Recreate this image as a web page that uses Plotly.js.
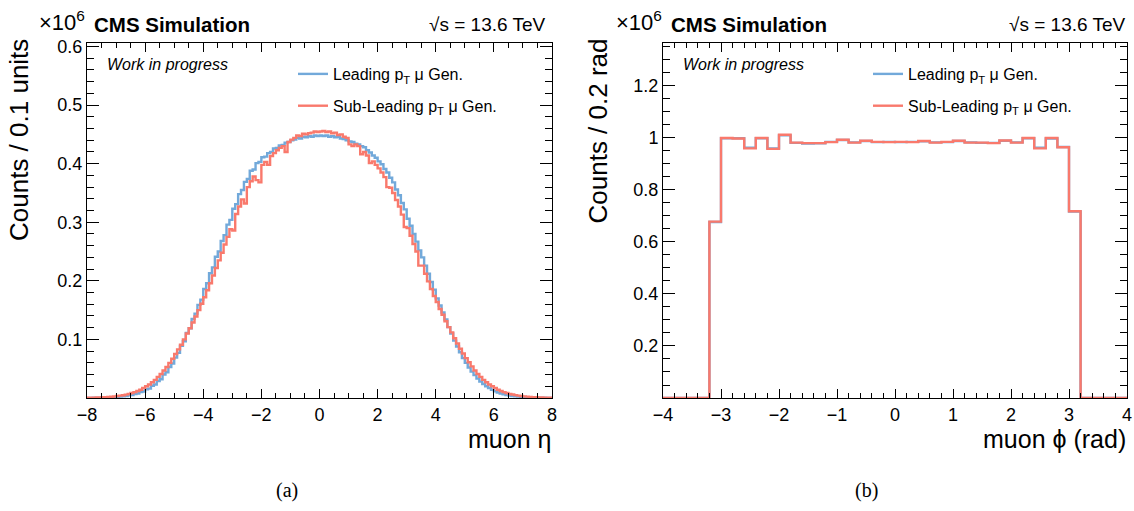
<!DOCTYPE html>
<html><head><meta charset="utf-8">
<script src="https://cdn.plot.ly/plotly-3.0.1.min.js"></script>
<style>html,body{margin:0;padding:0;background:#fff;} #chart{width:1134px;height:511px;}</style>
</head><body><div id="chart"></div>
<script>
// ---------- binning ----------
const etaBinLow = -8, etaBinWidth = 0.1;   // 160 bins, -8 .. 8
const phiBinLow = -4, phiBinWidth = 0.2;   // 40 bins, -4 .. 4

// ---------- muon eta (x10^6 counts / 0.1) ----------
const etaLeading = [
.0002,.0002,.0003,.0004,.0005,.0006,.0008,.0010,.0013,.0015,
.0020,.0023,.0030,.0034,.0044,.0051,.0066,.0076,.010,.011,
.015,.016,.021,.023,.029,.032,.040,.044,.053,.059,
.069,.077,.089,.097,.111,.119,.135,.144,.159,.168,
.186,.196,.213,.223,.241,.250,.268,.278,.296,.304,
.323,.331,.348,.355,.369,.374,.388,.390,.401,.403,
.411,.412,.418,.420,.426,.427,.431,.432,.436,.437,
.440,.441,.444,.443,.446,.445,.447,.446,.448,.447,
.448,.447,.448,.446,.447,.445,.446,.443,.442,.440,
.438,.437,.434,.433,.430,.428,.423,.419,.414,.410,
.404,.399,.391,.385,.376,.368,.356,.346,.333,.322,
.306,.294,.280,.267,.252,.240,.226,.212,.198,.185,
.170,.158,.146,.134,.121,.110,.098,.088,.078,.068,
.060,.052,.045,.039,.033,.028,.024,.020,.017,.014,
.0115,.0095,.0078,.0064,.0052,.0043,.0035,.0029,.0024,.0019,
.0016,.0013,.0010,.0008,.0006,.0005,.0004,.0003,.0002,.0002
];
const etaSubLeading = [
.0004,.0005,.0006,.0008,.0010,.0012,.0015,.0018,.0022,.0027,
.0033,.0040,.0048,.0058,.0070,.0085,.010,.012,.014,.017,
.020,.023,.027,.031,.036,.041,.047,.053,.060,.067,
.075,.083,.091,.100,.110,.119,.129,.139,.150,.161,
.172,.184,.196,.209,.222,.235,.248,.262,.275,.288,
.286,.314,.327,.339,.332,.360,.370,.378,.372,.368,
.398,.403,.398,.413,.418,.423,.427,.430,.420,.437,
.441,.444,.448,.447,.451,.450,.452,.453,.455,.454,
.455,.456,.454,.455,.452,.453,.449,.450,.446,.444,
.433,.430,.433,.430,.416,.420,.414,.401,.404,.398,
.392,.385,.377,.360,.359,.350,.338,.327,.313,.292,
.290,.277,.263,.250,.226,.226,.212,.199,.186,.174,
.164,.152,.142,.131,.121,.112,.102,.093,.084,.076,
.068,.061,.054,.047,.041,.036,.031,.027,.023,.020,
.017,.014,.012,.010,.0085,.0071,.0059,.0049,.0041,.0034,
.0028,.0023,.0019,.0015,.0012,.0010,.0008,.0006,.0005,.0004
];

// ---------- muon phi (x10^6 counts / 0.2 rad) ----------
const phiLeading = [
0,0,0,0,
0.677,0.999,0.999,0.962,0.999,0.960,1.010,0.981,0.978,0.979,0.985,0.992,0.983,0.988,0.984,0.985,
0.984,0.985,0.987,0.983,0.984,0.988,0.983,0.981,0.981,0.989,0.983,0.999,0.962,0.998,0.965,0.717,
0,0,0,0
];
const phiSubLeading = [
0,0,0,0,
0.678,1.000,0.998,0.960,1.000,0.958,1.012,0.982,0.980,0.980,0.984,0.993,0.982,0.989,0.985,0.984,
0.985,0.984,0.988,0.982,0.985,0.989,0.982,0.982,0.980,0.990,0.982,1.000,0.960,1.000,0.964,0.718,
0,0,0,0
];

// ---------- labels ----------
const legendNames = ["Leading p<sub>T</sub> μ Gen.", "Sub-Leading p<sub>T</sub> μ Gen."];
const etaYTicks = [0.1,0.2,0.3,0.4,0.5,0.6];
const etaYTickText = ["0.1","0.2","0.3","0.4","0.5","0.6"];
const phiYTicks = [0.2,0.4,0.6,0.8,1.0,1.2];
const phiYTickText = ["0.2","0.4","0.6","0.8","1","1.2"];

const colBlue = "#72a9da", colRed = "#f9796c";

function stepXY(low, width, vals){
  const x = [], y = [];
  for (let i = 0; i < vals.length; i++){ x.push(low + width*i); y.push(vals[i]); }
  x.push(low + width*vals.length); y.push(vals[vals.length-1]);
  return {x, y};
}

const e1 = stepXY(etaBinLow, etaBinWidth, etaLeading);
const e2 = stepXY(etaBinLow, etaBinWidth, etaSubLeading);
const p1 = stepXY(phiBinLow, phiBinWidth, phiLeading);
const p2 = stepXY(phiBinLow, phiBinWidth, phiSubLeading);

const lw = 2.4;
const traces = [
  {x:e1.x, y:e1.y, type:"scatter", mode:"lines", line:{shape:"hv", color:colBlue, width:lw}, name:legendNames[0], legend:"legend", legendgroup:"a", xaxis:"x", yaxis:"y"},
  {x:e2.x, y:e2.y, type:"scatter", mode:"lines", line:{shape:"hv", color:colRed, width:lw}, name:legendNames[1], legend:"legend", legendgroup:"b", xaxis:"x", yaxis:"y"},
  {x:p1.x, y:p1.y, type:"scatter", mode:"lines", line:{shape:"hv", color:colBlue, width:lw}, name:legendNames[0], legend:"legend2", legendgroup:"c", xaxis:"x2", yaxis:"y2"},
  {x:p2.x, y:p2.y, type:"scatter", mode:"lines", line:{shape:"hv", color:colRed, width:lw}, name:legendNames[1], legend:"legend2", legendgroup:"d", xaxis:"x2", yaxis:"y2"}
];

const W = 1134, H = 511;
const px = v => v / W, py = v => 1 - v / H;
const FF = "Liberation Sans, Arial, sans-serif";
const tickFont = {family: FF, size: 18, color: "#000"};

function xAx(dom, rng, dt, mdt, anchor){
  return {domain: dom, range: rng, anchor: anchor, tickmode:"linear", tick0:0, dtick: dt,
    ticks:"inside", ticklen:9, tickwidth:1, tickcolor:"#000",
    minor:{tickmode:"linear", tick0:0, dtick:mdt, ticks:"inside", ticklen:5, tickwidth:1, tickcolor:"#000", showgrid:false},
    showline:true, linecolor:"#000", linewidth:1, mirror:"allticks",
    showgrid:false, zeroline:false, tickfont: tickFont, fixedrange:true};
}
function yAx(dom, rng, tv, tt, mdt, anchor){
  return {domain: dom, range: rng, anchor: anchor, tickmode:"array", tickvals: tv, ticktext: tt,
    ticks:"inside", ticklen:12, tickwidth:1, tickcolor:"#000",
    minor:{tickmode:"linear", tick0:0, dtick:mdt, ticks:"inside", ticklen:7, tickwidth:1, tickcolor:"#000", showgrid:false},
    showline:true, linecolor:"#000", linewidth:1, mirror:"allticks",
    showgrid:false, zeroline:false, tickfont: tickFont, fixedrange:true};
}

const ydom = [1 - 398/H, 1 - 43/H];

function ann(text, x, y, opts){
  return Object.assign({text, x: px(x), y: py(y), xref:"paper", yref:"paper", showarrow:false,
    xanchor:"left", yanchor:"middle", font:{family:FF, size:18, color:"#000"}}, opts||{});
}

const annotations = [
  ann("Counts / 0.1 units", 19, 37, {xanchor:"center", yanchor:"top", textangle:-90, font:{family:FF,size:26,color:"#000"}}),
  ann("Counts / 0.2 rad", 598, 37, {xanchor:"center", yanchor:"top", textangle:-90, font:{family:FF,size:26,color:"#000"}}),
  ann("muon η", 553, 439, {xanchor:"right", font:{family:FF,size:25,color:"#000"}}),
  ann("muon ϕ (rad)", 1128, 439, {xanchor:"right", font:{family:FF,size:25,color:"#000"}}),
  ann("×10<sup>6</sup>", 37, 21, {font:{family:FF,size:22,color:"#000"}}),
  ann("×10<sup>6</sup>", 614, 21, {font:{family:FF,size:22,color:"#000"}}),
  ann("<b>CMS Simulation</b>", 92, 25, {font:{family:FF,size:20.5,color:"#000"}}),
  ann("<b>CMS Simulation</b>", 669, 25, {font:{family:FF,size:20.5,color:"#000"}}),
  ann("√s = 13.6 TeV", 548, 25, {xanchor:"right", font:{family:FF,size:19,color:"#000"}}),
  ann("√s = 13.6 TeV", 1128, 25, {xanchor:"right", font:{family:FF,size:19,color:"#000"}}),
  ann("<i>Work in progress</i>", 105, 64, {font:{family:FF,size:16,color:"#000"}}),
  ann("<i>Work in progress</i>", 681, 64, {font:{family:FF,size:16,color:"#000"}}),
  ann("(a)", 287, 490, {xanchor:"center", font:{family:"Liberation Serif, DejaVu Serif, serif",size:20,color:"#000"}}),
  ann("(b)", 866, 490, {xanchor:"center", font:{family:"Liberation Serif, DejaVu Serif, serif",size:20,color:"#000"}})
];

const legFont = {family: FF, size: 16, color: "#000"};
const layout = {
  width: W, height: H, margin:{l:0, r:0, t:0, b:0},
  paper_bgcolor:"#fff", plot_bgcolor:"#fff",
  showlegend: true, hovermode:false,
  xaxis: xAx([px(87), px(552)], [-8, 8], 2, 0.5, "y"),
  yaxis: yAx(ydom, [0, 0.606], etaYTicks, etaYTickText, 0.02, "x"),
  xaxis2: xAx([px(663), px(1127)], [-4, 4], 1, 0.2, "y2"),
  yaxis2: yAx(ydom, [0, 1.365], phiYTicks, phiYTickText, 0.05, "x2"),
  legend: {x: px(293), xanchor:"left", y: py(57), yanchor:"top", font: legFont, bgcolor:"rgba(0,0,0,0)", borderwidth:0, tracegroupgap:8, itemwidth:30},
  legend2: {x: px(868), xanchor:"left", y: py(57), yanchor:"top", font: legFont, bgcolor:"rgba(0,0,0,0)", borderwidth:0, tracegroupgap:8, itemwidth:30},
  annotations: annotations
};

Plotly.newPlot("chart", traces, layout, {staticPlot:true, displayModeBar:false});
</script>
</body></html>
